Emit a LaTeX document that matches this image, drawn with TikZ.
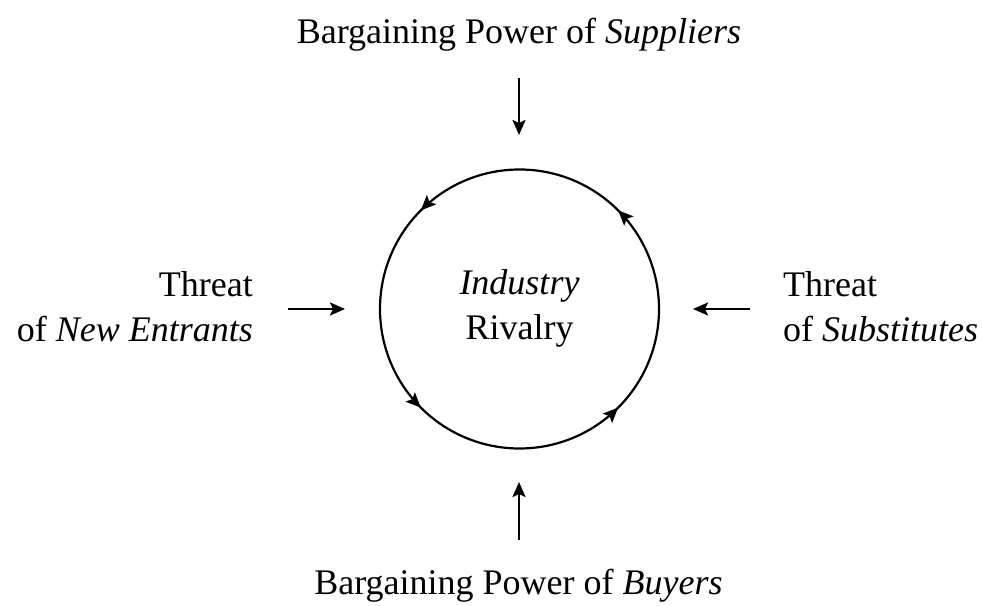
\documentclass[tikz,border=0pt]{standalone}
\usepackage{fontspec}
\setmainfont{Liberation Serif}
\usetikzlibrary{arrows.meta,decorations.markings}
\begin{document}
\begin{tikzpicture}[x=1pt,y=1pt,
  lbl/.style={inner sep=0pt,font=\fontsize{36}{44}\selectfont},
  force/.style={line width=2.2pt,-{Stealth[length=15pt,width=13pt,inset=3pt]}},
  cyc/.style={line width=2.2pt,postaction={decorate},decoration={markings,
    mark=at position 0.125 with {\arrow{Stealth[length=15pt,width=13pt,inset=3pt]}},
    mark=at position 0.375 with {\arrow{Stealth[length=15pt,width=13pt,inset=3pt]}},
    mark=at position 0.625 with {\arrow{Stealth[length=15pt,width=13pt,inset=3pt]}},
    mark=at position 0.875 with {\arrow{Stealth[length=15pt,width=13pt,inset=3pt]}}}}]
\useasboundingbox (0,0) rectangle (982,605);
% texts
\node[lbl,anchor=base] (sup) at (519,561) {Bargaining Power of \textit{Suppliers}};
\node[lbl,anchor=base] (buy) at (518.5,11) {Bargaining Power of \textit{Buyers}};
\node[lbl,anchor=base east] (newA) at (253,308) {Threat};
\node[lbl,anchor=base east] (newB) at (253,263) {of \textit{New Entrants}};
\node[lbl,anchor=base west] (subA) at (783,308) {Threat};
\node[lbl,anchor=base west] (subB) at (783,263) {of \textit{Substitutes}};
\node[lbl,anchor=base] (indA) at (519.5,310) {\textit{Industry}};
\node[lbl,anchor=base] (indB) at (519.5,265) {Rivalry};
% circle
\coordinate (c) at (519.5,296);
\draw[cyc] (c) circle[radius=139.5];
% arrow endpoints
\coordinate (t1) at (519,527);
\coordinate (t2) at (519,470);
\coordinate (b1) at (519,65);
\coordinate (b2) at (519,123);
\coordinate (l1) at (288,296);
\coordinate (l2) at (345,296);
\coordinate (r1) at (750,296);
\coordinate (r2) at (693,296);
\draw[force] (t1) -- (t2);
\draw[force] (b1) -- (b2);
\draw[force] (l1) -- (l2);
\draw[force] (r1) -- (r2);
\end{tikzpicture}
\end{document}
